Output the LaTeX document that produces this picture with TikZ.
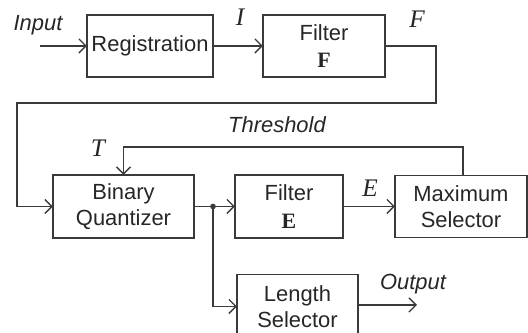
\documentclass[tikz,border=0pt]{standalone}
\usepackage[no-math]{fontspec}
\setmainfont{Liberation Sans}
\newfontfamily\sigfont{Liberation Serif}
\usetikzlibrary{arrows.meta}
\definecolor{linegray}{HTML}{3A3A3A}
\tikzset{
  block/.style={draw=linegray, line width=1pt, inner sep=0pt, outer sep=0pt,
    align=center, text=black!85, font=\fontsize{15.6}{18.5}\selectfont},
  wire/.style={draw=linegray, line width=1pt},
  flow/.style={wire, -{Straight Barb[length=5pt,width=10pt]}},
  sig/.style={inner sep=0pt, text=black!85, font=\fontsize{18}{20}\selectfont\sigfont\itshape},
  note/.style={inner sep=0pt, text=black!85, font=\fontsize{15.6}{18}\selectfont\itshape}
}

\begin{document}
\begin{tikzpicture}[x=0.025cm, y=-0.025cm]
        \clip (0,0) rectangle (528,333);
        % top row
        \node[block, minimum width=3.15cm, minimum height=1.55cm] (reg) at (150,46) {Registration};
        \node[block, minimum width=3.05cm, minimum height=1.55cm] (filtF) at (324,46) {Filter\\[1pt]{\sigfont\bfseries F}};
        % middle row
        \node[block, minimum width=3.525cm, minimum height=1.575cm] (bq) at (123.5,206.5) {Binary\\Quantizer};
        \node[block, minimum width=2.7cm, minimum height=1.575cm] (filtE) at (289,206.5) {Filter\\[1pt]{\sigfont\bfseries E}};
        \node[block, minimum width=3.3cm, minimum height=1.55cm] (maxs) at (461,206.5) {Maximum\\Selector};
        % bottom row
        \node[block, minimum width=3.025cm, minimum height=1.6cm] (lens) at (297.5,306.5) {Length\\Selector};
        % free ends and bends
        \coordinate (in) at (40,46);
        \coordinate (out) at (417,305);
        \coordinate (j) at (213,206.5);
        \coordinate (b1) at (436,46);
        \coordinate (b2) at (436,103);
        \coordinate (b3) at (17,103);
        \coordinate (b4) at (17,206.5);
        \coordinate (t1) at (463,147);
        \coordinate (t2) at (123.5,147);
        % connectors
        \draw[flow] (in) -- (reg);
        \draw[flow] (reg) -- (filtF);
        \draw[flow] (filtF.east) -- (b1) -- (b2) -- (b3) -- (b4) -- (bq.west);
        \draw[flow] (bq.east) -- (filtE.west);
        \draw[flow] (filtE) -- (maxs);
        \draw[flow] (maxs.north -| t1) -- (t1) -- (t2) -- (bq.north);
        \draw[flow] (j) |- (lens.west);
        \draw[flow] (lens.east |- out) -- (out);
        \fill[linegray] (j) circle (2pt);
        % labels
        \node[note] (lin) at (38,25) {Input};
        \node[sig] (lI) at (240,17) {I};
        \node[sig] (lF) at (417,19) {F};
        \node[note] (lth) at (277,125) {Threshold};
        \node[sig] (lT) at (98,148) {T};
        \node[sig] (lE) at (370,188) {E};
        \node[note] (lout) at (413,284) {Output};
\end{tikzpicture}
\end{document}
